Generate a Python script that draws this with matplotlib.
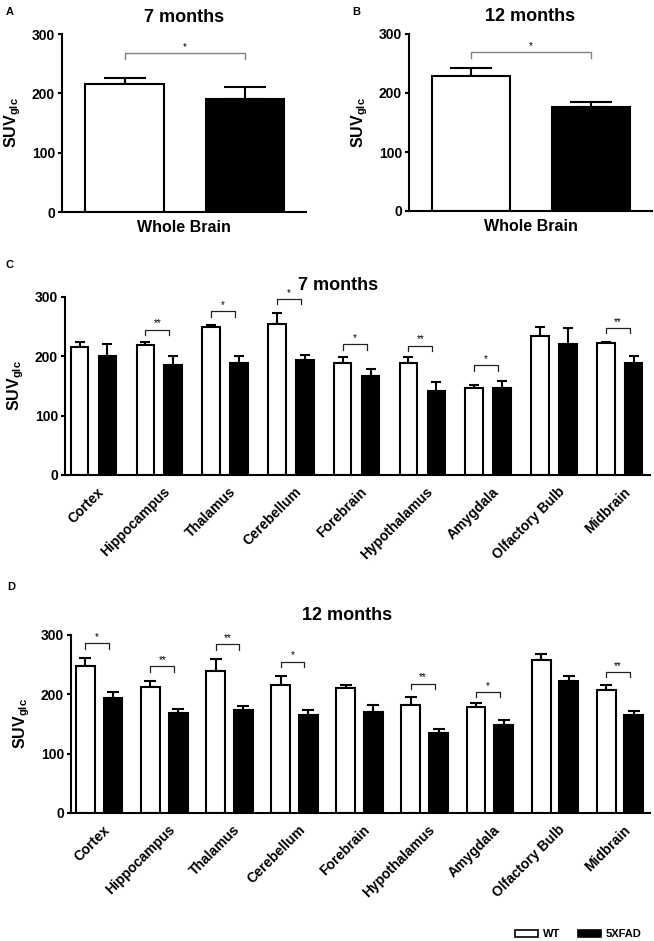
import numpy as np
import matplotlib
matplotlib.use("Agg")
import matplotlib.pyplot as plt
from matplotlib.patches import Patch

plt.rcParams['font.family'] = ['Liberation Sans', 'DejaVu Sans']
plt.rcParams['font.weight'] = 'bold'
plt.rcParams['axes.labelweight'] = 'bold'
plt.rcParams['axes.titleweight'] = 'bold'
plt.rcParams['mathtext.fontset'] = 'custom'
plt.rcParams['mathtext.bf'] = 'Liberation Sans:bold'
plt.rcParams['mathtext.rm'] = 'Liberation Sans:bold'

# whole brain
wb_7 = [216, 190]
wb_7_err = [10, 20]
wb_12 = [228, 177]
wb_12_err = [14, 8]

regioes = ['Cortex', 'Hippocampus', 'Thalamus', 'Cerebellum', 'Forebrain',
           'Hypothalamus', 'Amygdala', 'Olfactory Bulb', 'Midbrain']

# 7 months por regiao
wt_7 = [216, 219, 249, 254, 189, 189, 147, 235, 223]
wt_7_err = [8, 5, 3, 19, 10, 10, 4, 14, 2]
ko_7 = [201, 186, 189, 193, 167, 142, 147, 220, 188]
ko_7_err = [19, 14, 12, 9, 12, 15, 11, 27, 13]
sig_7 = ['', '**', '*', '*', '*', '**', '*', '', '**']
sig_7_y = [0, 245, 276, 297, 220, 218, 185, 0, 248]

# 12 months por regiao
wt_12 = [247, 212, 240, 215, 211, 182, 178, 258, 208]
wt_12_err = [15, 10, 20, 16, 5, 13, 8, 10, 8]
ko_12 = [193, 169, 174, 166, 170, 135, 148, 222, 166]
ko_12_err = [11, 6, 7, 7, 12, 7, 9, 9, 6]
sig_12 = ['*', '**', '**', '*', '', '**', '*', '', '**']
sig_12_y = [286, 247, 284, 255, 0, 218, 204, 0, 238]

W, H = 654, 941
fig = plt.figure(figsize=(W / 100, H / 100), dpi=100)

ylabel = r'$\mathbf{SUV}_{\mathbf{glc}}$'


def eixo(left, top, right, bottom):
    return fig.add_axes([left / W, 1 - bottom / H, (right - left) / W, (bottom - top) / H])


def estilo(ax):
    for s in ['top', 'right']:
        ax.spines[s].set_visible(False)
    for s in ['left', 'bottom']:
        ax.spines[s].set_linewidth(1.5)
    ax.set_ylim(0, 300)
    ax.set_yticks([0, 100, 200, 300])
    ax.tick_params(axis='y', direction='out', length=3, width=1.5, labelsize=10, pad=2)
    ax.tick_params(axis='x', length=0)
    ax.set_ylabel(ylabel, fontsize=11.5, labelpad=6)


def colchete(ax, x0, x1, y, texto, d, cor, lw, fs):
    ax.plot([x0, x0, x1, x1], [y - d, y, y, y - d], color=cor, lw=lw, zorder=3)
    ax.text((x0 + x1) / 2, y + 2, texto, ha='center', va='bottom', fontsize=fs,
            fontweight='normal', color='black')


def painel_total(ax, vals, errs, titulo):
    x = np.arange(2)
    cores = ['white', 'black']
    ax.bar(x, vals, 0.65, color=cores, edgecolor='black', linewidth=1.5, zorder=2)
    ax.errorbar(x, vals, yerr=[[0, 0], errs], fmt='none', ecolor='black',
                elinewidth=1.5, capsize=14.8, capthick=1.5, zorder=1)
    ax.set_xlim(-0.52, 1.51)
    ax.set_xticks([])
    ax.set_xlabel('Whole Brain', fontsize=11.5, labelpad=6)
    ax.set_title(titulo, fontsize=13, pad=9)
    estilo(ax)


def painel_regioes(ax, wt, wt_err, ko, ko_err, sig, sig_y, largura, capsize):
    x = np.arange(len(regioes))
    off = 0.212
    zeros = np.zeros(len(x))
    ax.bar(x - off, wt, largura, color='white', edgecolor='black', linewidth=1.5, zorder=2)
    ax.bar(x + off, ko, largura, color='black', edgecolor='black', linewidth=1.5, zorder=2)
    ax.errorbar(x - off, wt, yerr=[zeros, wt_err], fmt='none', ecolor='black',
                elinewidth=1.5, capsize=capsize, capthick=1.5, zorder=1)
    ax.errorbar(x + off, ko, yerr=[zeros, ko_err], fmt='none', ecolor='black',
                elinewidth=1.5, capsize=capsize, capthick=1.5, zorder=1)
    for i, (s, y) in enumerate(zip(sig, sig_y)):
        if s:
            colchete(ax, i - off, i + off - 0.06, y, s, 9, '#222222', 0.9, 7)
    ax.set_xlim(-0.433, 8.46)
    ax.set_xticks(x + 0.05)
    ax.set_xticklabels(regioes, rotation=45, ha='right', rotation_mode='anchor', fontsize=10)
    estilo(ax)
    ax.tick_params(axis='x', pad=7)


# A
axA = eixo(62, 34, 306, 212)
painel_total(axA, wb_7, wb_7_err, '7 months')
colchete(axA, 0, 1, 268, '*', 10, '#808080', 1.0, 7)
fig.text(6 / W, 1 - 12 / H, 'A', fontsize=8, va='center', ha='left')

# B
axB = eixo(409, 34, 652, 211)
painel_total(axB, wb_12, wb_12_err, '12 months')
colchete(axB, 0, 1, 269, '*', 10, '#808080', 1.0, 7)
fig.text(352 / W, 1 - 12 / H, 'B', fontsize=8, va='center', ha='left')

# C
axC = eixo(65, 297, 650, 475)
painel_regioes(axC, wt_7, wt_7_err, ko_7, ko_7_err, sig_7, sig_7_y, 0.266, 3.4)
fig.text(338 / W, 1 - 285 / H, '7 months', fontsize=13, ha='center', va='center')
fig.text(6 / W, 1 - 265 / H, 'C', fontsize=8, va='center', ha='left')

# D
axD = eixo(71, 635, 650, 813)
painel_regioes(axD, wt_12, wt_12_err, ko_12, ko_12_err, sig_12, sig_12_y, 0.29, 4.2)
fig.text(347 / W, 1 - 615 / H, '12 months', fontsize=13, ha='center', va='center')
fig.text(7 / W, 1 - 587 / H, 'D', fontsize=8, va='center', ha='left')

# legenda
handles = [Patch(facecolor='white', edgecolor='black', linewidth=1.2),
           Patch(facecolor='black', edgecolor='black', linewidth=1.2)]
fig.legend(handles, ['WT', '5XFAD'], loc='center', bbox_to_anchor=(578 / W, 1 - 934 / H),
           ncol=2, frameon=False, fontsize=8, handlelength=2.1, handleheight=0.6,
           handletextpad=0.4, columnspacing=1.6, borderpad=0)

fig.savefig('out.png', dpi=100)
